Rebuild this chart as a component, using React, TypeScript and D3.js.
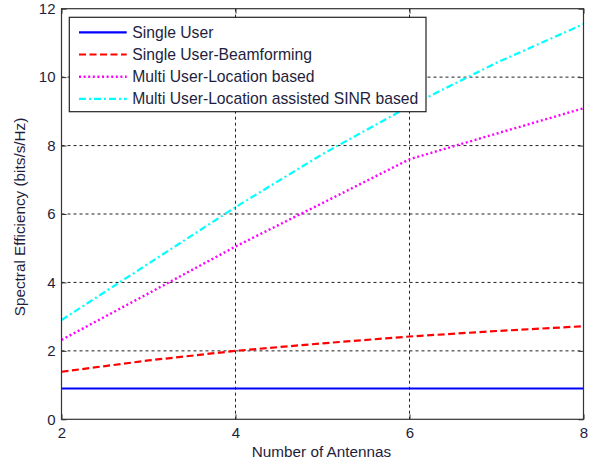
import { useEffect, useRef } from 'react'
import * as d3 from 'd3'

// Data
const antennas = [2, 3, 4, 5, 6, 7, 8]
const singleUser = [0.9, 0.9, 0.9, 0.9, 0.9, 0.9, 0.9]
const singleUserBf = [1.39, 1.72, 2.0, 2.22, 2.42, 2.58, 2.72]
const multiUserLoc = [2.32, 3.68, 5.05, 6.32, 7.6, 8.35, 9.09]
const multiUserSinr = [2.9, 4.55, 6.2, 7.75, 9.15, 10.42, 11.55]

const xTicks = [2, 4, 6, 8]
const yTicks = [0, 2, 4, 6, 8, 10, 12]

const seriesNames = [
  'Single User',
  'Single User-Beamforming',
  'Multi User-Location based',
  'Multi User-Location assisted SINR based',
]

const width = 613
const height = 466
const margin = { top: 8.7, right: 29.5, bottom: 46.7, left: 61.5 }

export default function App() {
  const svgRef = useRef<SVGSVGElement>(null)

  useEffect(() => {
    if (!svgRef.current) return
    const svg = d3.select(svgRef.current)
    svg.selectAll('*').remove()

    const innerWidth = width - margin.left - margin.right
    const innerHeight = height - margin.top - margin.bottom
    const font = 'Arial, "Liberation Sans", sans-serif'
    const textColor = '#1e1e3c'

    const x = d3.scaleLinear().domain([2, 8]).range([0, innerWidth])
    const y = d3.scaleLinear().domain([0, 12]).range([innerHeight, 0])

    svg.append('rect').attr('width', width).attr('height', height).attr('fill', '#fff')

    const g = svg.append('g').attr('transform', `translate(${margin.left},${margin.top})`)

    // grid
    g.append('g')
      .selectAll('line')
      .data(xTicks.slice(1, -1))
      .enter().append('line')
      .attr('x1', d => x(d)).attr('x2', d => x(d))
      .attr('y1', 0).attr('y2', innerHeight)
      .attr('stroke', '#222').attr('stroke-width', 1)
      .attr('stroke-dasharray', '3,3')

    g.append('g')
      .selectAll('line')
      .data(yTicks.slice(1, -1))
      .enter().append('line')
      .attr('x1', 0).attr('x2', innerWidth)
      .attr('y1', d => y(d)).attr('y2', d => y(d))
      .attr('stroke', '#222').attr('stroke-width', 1)
      .attr('stroke-dasharray', '3,3')

    // series
    const styles = [
      { values: singleUser, color: '#0000ff', dash: null, w: 2.2 },
      { values: singleUserBf, color: '#ff0000', dash: '7,3.5', w: 2.2 },
      { values: multiUserLoc, color: '#ff00ff', dash: '2,2.6', w: 2.4 },
      { values: multiUserSinr, color: '#00ffff', dash: '7,3,2,3', w: 2.2 },
    ]

    const line = d3.line<number>()
      .x((_, i) => x(antennas[i]))
      .y(d => y(d))

    styles.forEach(s => {
      g.append('path')
        .datum(s.values)
        .attr('fill', 'none')
        .attr('stroke', s.color)
        .attr('stroke-width', s.w)
        .attr('stroke-dasharray', s.dash)
        .attr('d', line)
    })

    // box
    g.append('rect')
      .attr('width', innerWidth).attr('height', innerHeight)
      .attr('fill', 'none').attr('stroke', '#333').attr('stroke-width', 1.2)

    // axes (ticks inside, mirrored)
    const tickLen = 5
    const xAxis = g.append('g').attr('transform', `translate(0,${innerHeight})`)
      .call(d3.axisBottom(x).tickValues(xTicks).tickSize(-tickLen).tickPadding(8).tickFormat(d3.format('d')))
    const yAxis = g.append('g')
      .call(d3.axisLeft(y).tickValues(yTicks).tickSize(-tickLen).tickPadding(6).tickFormat(d3.format('d')))
    g.append('g')
      .call(d3.axisTop(x).tickValues(xTicks).tickSize(-tickLen).tickFormat(() => ''))
    g.append('g').attr('transform', `translate(${innerWidth},0)`)
      .call(d3.axisRight(y).tickValues(yTicks).tickSize(-tickLen).tickFormat(() => ''))

    g.selectAll('.domain').remove()
    g.selectAll('.tick line').attr('stroke', '#333')
    ;[xAxis, yAxis].forEach(a => a.selectAll('text')
      .style('font-family', font).style('font-size', '15px').attr('fill', textColor))

    // axis labels
    svg.append('text')
      .attr('x', margin.left + innerWidth / 2 - 1)
      .attr('y', 457)
      .attr('text-anchor', 'middle')
      .style('font-family', font).style('font-size', '15.3px').attr('fill', textColor)
      .text('Number of Antennas')

    svg.append('text')
      .attr('transform', `translate(25,${margin.top + innerHeight / 2 + 3}) rotate(-90)`)
      .attr('text-anchor', 'middle')
      .style('font-family', font).style('font-size', '15.3px').attr('fill', textColor)
      .text('Spectral Efficiency (bits/s/Hz)')

    // legend
    const lg = svg.append('g').attr('transform', 'translate(69.3,17.3)')
    lg.append('rect')
      .attr('width', 356.7).attr('height', 94.4)
      .attr('fill', '#fff').attr('stroke', '#222').attr('stroke-width', 1.2)

    seriesNames.forEach((name, i) => {
      const ly = 15 + i * 22.2
      lg.append('line')
        .attr('x1', 9.7).attr('x2', 57.4)
        .attr('y1', ly).attr('y2', ly)
        .attr('stroke', styles[i].color)
        .attr('stroke-width', styles[i].w)
        .attr('stroke-dasharray', styles[i].dash)
      lg.append('text')
        .attr('x', 63)
        .attr('y', ly + 5.5)
        .style('font-family', font).style('font-size', '15.7px').attr('fill', textColor)
        .text(name)
    })
  }, [])

  return (
    <svg
      ref={svgRef}
      width={width}
      height={height}
      style={{ position: 'absolute', left: 0, top: 0 }}
    />
  )
}
